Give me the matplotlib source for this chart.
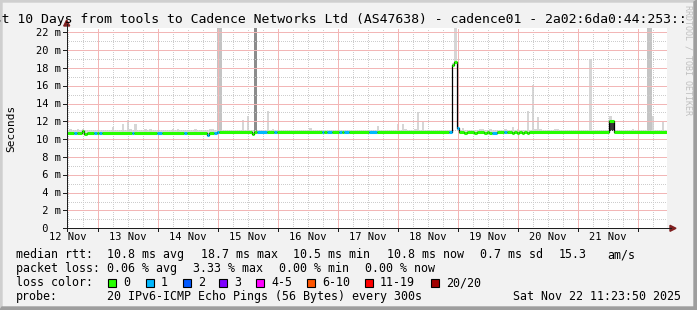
import numpy as np
import matplotlib
matplotlib.use("Agg")
import matplotlib.pyplot as plt
from matplotlib.patches import Rectangle, Polygon
from matplotlib.lines import Line2D

# ---------------- data ----------------
title = "Last 10 Days from tools to Cadence Networks Ltd (AS47638) - cadence01 - 2a02:6da0:44:253::"
day_labels = ["12 Nov", "13 Nov", "14 Nov", "15 Nov", "16 Nov",
              "17 Nov", "18 Nov", "19 Nov", "20 Nov", "21 Nov"]
y_tick_ms = [0, 2, 4, 6, 8, 10, 12, 14, 16, 18, 20, 22]
y_tick_labels = [" 0", " 2 m", " 4 m", " 6 m", " 8 m", "10 m", "12 m",
                 "14 m", "16 m", "18 m", "20 m", "22 m"]
start_day = 0.4749      # Nov 12 11:23:50, in days since Nov 12 00:00
span_days = 10
n_bins = 240            # one-hour consolidated bins
y_top_ms = 22.45

# median rtt: base level runs + individual deviating bins
median_base_start = [0, 57, 60]
median_base_ms = [10.75, 10.65, 10.85]
median_dev_bins = [6, 7, 56, 74, 154, 155, 156, 159, 163, 167, 169, 170, 171,
                   178, 180, 182, 184, 217, 218]
median_dev_ms = [10.95, 10.6, 10.5, 10.55, 18.3, 18.7, 11.3, 10.7, 10.7, 10.7,
                 10.7, 10.75, 10.75, 10.7, 10.7, 10.7, 10.7, 12.1, 12.1]

# bins with one lost ping (of 20)
loss_one_bins = [3, 11, 13, 26, 36, 37, 47, 56, 59, 60, 76, 77, 78, 79, 83,
                 102, 104, 105, 109, 111, 112, 121, 122, 123, 153, 156, 170,
                 171, 175]

# smoke: normal narrow band plus individual spikes
smoke_band_ms = (10.6, 11.05)
spike_bins = [1, 4, 6, 18, 22, 24, 25, 27, 31, 33, 42, 44, 51, 57, 58, 60, 61,
              70, 72, 75, 80, 82, 97, 124, 132, 134, 135, 139, 140, 142, 154,
              155, 156, 158, 165, 166, 169, 175, 178, 180, 184, 186, 187, 188,
              189, 195, 196, 209, 217, 217, 218, 226, 232, 233, 234, 238]
spike_low = [10.7, 10.7, 10.8, 10.7, 10.7, 10.7, 10.7, 10.7, 10.7, 10.7, 10.7,
             10.7, 10.7, 10.6, 10.6, 10.8, 10.8, 10.8, 10.8, 10.8, 10.8, 10.8,
             10.8, 10.8, 10.8, 10.8, 10.8, 10.8, 10.8, 10.8, 18.1, 18.5, 10.9,
             10.8, 10.8, 10.8, 10.8, 10.8, 10.8, 10.8, 10.8, 10.8, 10.8, 10.8,
             10.8, 10.8, 10.8, 10.8, 10.9, 10.9, 10.9, 10.8, 10.8, 10.8, 10.8,
             10.8]
spike_high = [11.1, 11.1, 11.2, 11.4, 11.7, 12.2, 11.1, 11.7, 11.1, 11.15, 11.1,
              11.1, 11.1, 11.1, 11.2, 23.0, 23.0, 12.2, 12.6, 23.0, 13.2, 11.2,
              11.3, 11.5, 11.7, 11.7, 11.2, 11.2, 13.1, 12.0, 18.5, 23.0, 11.7,
              11.3, 11.1, 11.1, 11.1, 11.2, 11.4, 11.1, 13.2, 16.1, 11.2, 12.5,
              11.1, 11.2, 11.2, 19.0, 12.6, 12.0, 12.0, 11.2, 23.0, 23.0, 12.6,
              12.0]
spike_shade = ["L", "L", "L", "L", "L", "L", "L", "L", "L", "L", "L",
               "L", "L", "L", "L", "M", "M", "L", "L", "D", "L", "L",
               "L", "L", "L", "L", "L", "L", "L", "L", "L", "L", "L",
               "L", "L", "L", "L", "L", "L", "L", "L", "L", "L", "L",
               "L", "L", "L", "L", "L", "K", "K", "L", "M", "M", "L",
               "L"]

loss_legend = ["0", "1", "2", "3", "4-5", "6-10", "11-19", "20/20"]
loss_legend_colors = ["#26ff00", "#00b8ff", "#0059ff", "#7e00ff", "#ff00ff",
                      "#ff5500", "#ff0000", "#a00000"]

row_rtt = ["median rtt:", "10.8 ms avg", "18.7 ms max", "10.5 ms min",
           "10.8 ms now", "0.7 ms sd", "15.3", "am/s"]
row_loss = ["packet loss:", "0.06 % avg", "3.33 % max", "0.00 % min", "0.00 % now"]
probe_label = "probe:"
probe_text = "20 IPv6-ICMP Echo Pings (56 Bytes) every 300s"
stamp_text = "Sat Nov 22 11:23:50 2025"
watermark = "RRDTOOL / TOBI OETIKER"
y_label = "Seconds"

# ---------------- styling ----------------
W, H = 697, 310
MONO = "DejaVu Sans Mono"
shade_colors = {"L": "#d6d6d6", "M": "#c4c4c4", "D": "#8c8c8c", "K": "#383838"}

fig = plt.figure(figsize=(W / 100, H / 100), dpi=100, facecolor="#f2f2f2")


def fx(px):
    return px / W


def fy(py):
    return 1 - py / H


AX_L, AX_R, AX_B, AX_T = 66.7, 666.7, 228.3, 28.3
ax = fig.add_axes([fx(AX_L), fy(AX_B), (AX_R - AX_L) / W, (AX_B - AX_T) / H])
ax.set_facecolor("white")
ax.set_xlim(start_day, start_day + span_days)
ax.set_ylim(0, y_top_ms)
for s in ax.spines.values():
    s.set_visible(False)
ax.set_xticks([])
ax.set_yticks([])

# build series
median = np.empty(n_bins)
for s, v in zip(median_base_start, median_base_ms):
    median[s:] = v
for b, v in zip(median_dev_bins, median_dev_ms):
    median[b] = v
loss = np.zeros(n_bins, dtype=int)
loss[loss_one_bins] = 1
edges = start_day + np.arange(n_bins + 1) / 24.0
bw = 1 / 24.0

# smoke band
band = np.abs(median - 10.8) < 0.5
ax.bar(edges[:-1][band], smoke_band_ms[1] - smoke_band_ms[0], bottom=smoke_band_ms[0],
       width=bw, align="edge", color="#dcdcdc", linewidth=0, zorder=2)
for b, lo, hi, sh in zip(spike_bins, spike_low, spike_high, spike_shade):
    ax.bar(edges[b], hi - lo, bottom=lo, width=bw, align="edge",
           color=shade_colors[sh], linewidth=0, zorder=2)

# grid (dotted, 1px)
minor_x = np.arange(np.ceil(start_day * 4) / 4, start_day + span_days, 0.25)
minor_x = [v for v in minor_x if abs(v - round(v)) > 1e-6]
major_x = np.arange(1, 11)
GMIN, GMAJ = "#cdcdcd", "#f2b6b6"
for v in minor_x:
    ax.axvline(v, color=GMIN, lw=0.72, dashes=(1, 2), antialiased=False, zorder=3)
for v in range(1, 23, 2):
    ax.axhline(v, color=GMIN, lw=0.72, dashes=(1, 2), antialiased=False, zorder=3)
for v in major_x:
    ax.axvline(v, color=GMAJ, lw=0.72, dashes=(1, 1), antialiased=False, zorder=3)
for v in range(2, 23, 2):
    ax.axhline(v, color=GMAJ, lw=0.72, dashes=(1, 1), antialiased=False, zorder=3)

# median line: thin black steps, thick loss-coloured segments
ax.step(edges, np.append(median, median[-1]), where="post", color="black",
        lw=0.9, zorder=4)
i = 0
while i < n_bins:
    j = i
    while j + 1 < n_bins and median[j + 1] == median[i] and loss[j + 1] == loss[i]:
        j += 1
    ax.plot([edges[i], edges[j + 1]], [median[i], median[i]],
            color=loss_legend_colors[loss[i]], lw=2.2, solid_capstyle="butt", zorder=5)
    i = j + 1

# axes lines and arrows (figure pixel coordinates)
def fline(x0, y0, x1, y1, color, lw=0.72):
    fig.add_artist(Line2D([fx(x0), fx(x1)], [fy(y0), fy(y1)], color=color, lw=lw,
                          antialiased=False, transform=fig.transFigure))


ppm = (AX_B - AX_T) / y_top_ms
fline(AX_L, AX_B + 3, AX_L, 24, "#1f1f1f")
fline(AX_L - 4, AX_B, 671, AX_B, "#1f1f1f")
fig.add_artist(Polygon([[fx(AX_L), fy(20)], [fx(AX_L - 3), fy(26)], [fx(AX_L + 3), fy(26)]],
                       closed=True, color="#802020", transform=fig.transFigure))
fig.add_artist(Polygon([[fx(676), fy(AX_B)], [fx(670), fy(AX_B - 3)], [fx(670), fy(AX_B + 3)]],
                       closed=True, color="#802020", transform=fig.transFigure))
for v in y_tick_ms:
    py = AX_B - v * ppm
    fline(AX_L - 3.5, py, AX_L, py, "#1f1f1f")
for d in major_x:
    px = AX_L + (d - start_day) / span_days * (AX_R - AX_L)
    fline(px, AX_B, px, AX_B + 3, "#1f1f1f")

# tick labels
for v, lab in zip(y_tick_ms, y_tick_labels):
    py = AX_B - v * ppm
    fig.text(fx(35.5), fy(py + 3.6), lab, family=MONO, size=7.5, ha="left",
             va="baseline")
for k, lab in enumerate(day_labels):
    px = AX_L + (k + 0.5 - start_day) / span_days * (AX_R - AX_L)
    fig.text(fx(px), fy(240.5), lab, family=MONO, size=7.5, ha="center", va="baseline")

fig.text(fx(11), fy(128), y_label, family=MONO, size=8, rotation=90,
         ha="center", va="center")

# title (wider than the image, clipped at both sides like the original)
fig.text(fx(1.7 - 3 * 7.88), fy(22.7), title, family=MONO, size=9.45,
         ha="left", va="baseline")

# watermark
fig.text(fx(688), fy(60), watermark, family=MONO, size=6, rotation=270,
         ha="center", va="center", color="#c0c0c0")

# legend
FS = 8.4
rtt_x = [16, 107.3, 201, 293.3, 386.7, 480, 559, 607.3]
for x, t in zip(rtt_x, row_rtt):
    fig.text(fx(x), fy(258.3), t, family=MONO, size=FS, ha="left", va="baseline")
loss_x = [16, 107.3, 193, 279.3, 365]
for x, t in zip(loss_x, row_loss):
    fig.text(fx(x), fy(272.3), t, family=MONO, size=FS, ha="left", va="baseline")
fig.text(fx(16), fy(286.3), "loss color:", family=MONO, size=FS, ha="left", va="baseline")
sq_x = [108, 146, 183, 219, 256, 307, 365, 431]
for x, t, c in zip(sq_x, loss_legend, loss_legend_colors):
    fig.add_artist(Rectangle((fx(x), fy(286.5)), 8 / W, 8 / H, facecolor=c,
                             edgecolor="black", lw=0.8, transform=fig.transFigure))
    fig.text(fx(x + 15), fy(286.3), t, family=MONO, size=FS, ha="left", va="baseline")
fig.text(fx(16), fy(300), probe_label, family=MONO, size=FS, ha="left", va="baseline")
fig.text(fx(107.3), fy(300), probe_text, family=MONO, size=FS, ha="left", va="baseline")
fig.text(fx(681), fy(300), stamp_text, family=MONO, size=FS, ha="right", va="baseline")

# bevelled frame
fig.add_artist(Polygon([[0, 1], [1, 1], [1 - fx(2), 1 - 2 / H], [fx(2), 1 - 2 / H],
                        [fx(2), 2 / H], [0, 0]], closed=True, color="#cfcfcf",
                       transform=fig.transFigure))
fig.add_artist(Polygon([[1, 1], [1, 0], [0, 0], [fx(2), 3 / H], [1 - fx(3), 3 / H],
                        [1 - fx(3), 1 - 2 / H]], closed=True, color="#9e9e9e",
                       transform=fig.transFigure))

fig.savefig("out.png", dpi=100, facecolor=fig.get_facecolor())
